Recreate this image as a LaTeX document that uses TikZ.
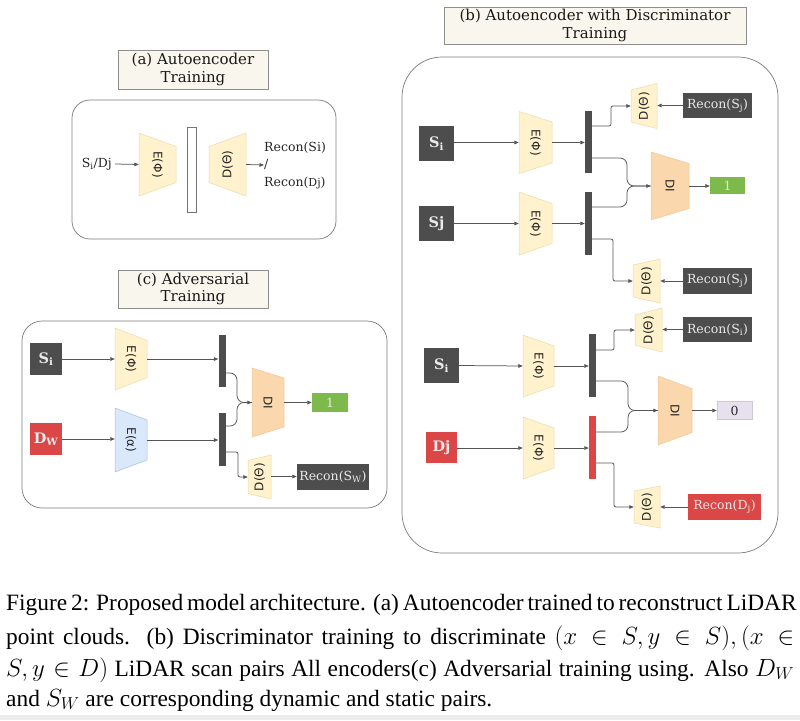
\documentclass[tikz,border=0pt]{standalone}
\usepackage{fontspec}
\setmainfont{DejaVu Serif}
\newfontfamily\capfont{Liberation Serif}
\newfontfamily\sansf{DejaVu Sans}
\usetikzlibrary{arrows.meta}
\definecolor{darkc}{HTML}{4D4D4D}
\definecolor{redc}{HTML}{DB4646}
\definecolor{boxtext}{HTML}{EAEAEA}
\definecolor{encfill}{HTML}{FFF2CC}
\definecolor{encdraw}{HTML}{EADBA8}
\definecolor{difill}{HTML}{FAD7AC}
\definecolor{didraw}{HTML}{EEC89A}
\definecolor{bluefill}{HTML}{DAE8FC}
\definecolor{bluedraw}{HTML}{A9BCDD}
\definecolor{greenc}{HTML}{7DBA4B}
\definecolor{lavfill}{HTML}{E7E1EF}
\definecolor{lavdraw}{HTML}{CFC6D9}
\definecolor{titlefill}{HTML}{F9F7ED}
\definecolor{titledraw}{HTML}{8E8E8A}
\definecolor{linec}{HTML}{555555}
\definecolor{panelc}{HTML}{7A7A7A}
\newcommand\trap[9]{%
  \path[#7] (#2,#4-#5) -- (#3,#4-#6) -- (#3,#4+#6) -- (#2,#4+#5) -- cycle;
  \node[inner sep=0pt, minimum width={(#3-#2)*1pt}, minimum height={2*max(#5,#6)*1pt}] (#1) at ({(#2+#3)/2},#4) {};
  \node[rotate=#8, inner sep=0pt, font=\sansf\fontsize{12}{13}\selectfont, text=black!85] at (#1) {#9};
}
\tikzset{
  ln/.style={draw=linec, line width=0.75pt},
  arr/.style={ln, -{Triangle[length=4.5pt,width=3.6pt]}},
  enc/.style={fill=encfill, draw=encdraw, line width=0.5pt},
  disc/.style={fill=difill, draw=didraw, line width=0.5pt},
  encb/.style={fill=bluefill, draw=bluedraw, line width=0.5pt},
  darkbox/.style={fill=darkc, text=boxtext, inner sep=0pt, font=\fontsize{14.5}{16}\bfseries\selectfont},
  redbox/.style={fill=redc, text=boxtext, inner sep=0pt, font=\fontsize{14.5}{16}\bfseries\selectfont},
  reconbox/.style={fill=darkc, text=boxtext, inner sep=0pt, minimum width=69, minimum height=25.5, font=\fontsize{12.5}{14}\selectfont},
  bar/.style={fill=darkc, draw=none, inner sep=0pt, minimum width=7},
  redbar/.style={fill=redc, draw=none, inner sep=0pt, minimum width=7},
  titlebox/.style={fill=titlefill, draw=titledraw, line width=0.6pt, inner sep=0pt, align=center, font=\fontsize{15}{17.5}\selectfont, text=black!90},
  panel/.style={draw=panelc, line width=0.7pt},
  lbl/.style={inner sep=0pt, font=\fontsize{12.5}{17.5}\selectfont, text=black!85},
  capline/.style={inner sep=0pt, anchor=base west, font=\capfont\fontsize{23.4}{26}\selectfont},
  merge/.style={rounded corners=7pt},
  elbow/.style={rounded corners=2pt}
}
\begin{document}
\begin{tikzpicture}[x=1pt,y=-1pt]
\useasboundingbox (0,0) rectangle (800,720);
\fill[white] (0,0) rectangle (800,720);
\fill[black!7] (0,715) rectangle (800,720);

% ---------------- panel (a)
\draw[panel, rounded corners=18pt] (72,100) rectangle (336,239);
\node[titlebox, minimum width=150, minimum height=39] (ta) at (193,69.5) {(a) Autoencoder\\Training};
\node[lbl, anchor=east] (ina) at (112,164) {S\textsubscript{i}/Dj};
\trap{ea}{139}{176}{164.5}{31.5}{18}{enc}{-90}{E(Φ)}
\node[fill=white, draw=black!55, line width=0.6pt, inner sep=0pt, minimum width=9, minimum height=85] (ba) at (191.5,169.5) {};
\trap{da}{209}{246}{164.5}{18}{31.5}{enc}{90}{D(Θ)}
\node[lbl, anchor=west, align=left] (outa) at (264,165) {Recon(Si)\\/\\Recon({\fontsize{11}{12}\selectfont Dj})};
\draw[arr] (ina.east) ++(3,0) -- (ea.west);
\draw[arr] (da.east) -- (outa.west);

% ---------------- panel (c)
\draw[panel, rounded corners=20pt] (22,321) rectangle (387,508);
\node[titlebox, minimum width=150, minimum height=38] (tc) at (193,289) {(c) Adversarial\\Training};
\node[darkbox, minimum width=32, minimum height=32] (sc) at (46,359) {S\textsubscript{i}};
\node[redbox, minimum width=32, minimum height=32] (dw) at (46,439) {D\textsubscript{W}};
\trap{ec1}{115}{147}{359}{31}{18.5}{enc}{-90}{E(Φ)}
\trap{ec2}{115}{147}{440}{32}{20}{encb}{-90}{E(α)}
\node[bar, minimum height=52] (bc1) at (222,361) {};
\node[bar, minimum height=53] (bc2) at (222,439.5) {};
\trap{dic}{252}{284}{402.5}{34.5}{24.5}{disc}{-90}{DI}
\node[fill=greenc, text=boxtext, inner sep=0pt, minimum width=36, minimum height=19, font=\fontsize{12.5}{14}\selectfont] (gc) at (330,402.5) {1};
\trap{dc}{248}{271}{477}{16.5}{22}{enc}{90}{D(Θ)}
\node[reconbox, minimum width=72, minimum height=26] (rc) at (333,476.5) {Recon(S\textsubscript{W})};
\draw[arr] (sc.east) -- (ec1.west);
\draw[arr] (ec1.east) -- (bc1.west |- ec1.east);
\draw[arr] (dw.east) -- (ec2.west |- dw.east);
\draw[arr] (ec2.east) -- (bc2.west |- ec2.east);
\draw[arr, merge] (bc1.east |- 0,373) -- (237,373) |- (dic.west);
\draw[ln, merge] (bc2.east |- 0,426) -- (237,426) |- (dic.west);
\draw[arr, elbow] (bc2.east |- 0,452) -- (238,452) |- (dc.west);
\draw[arr] (dc.east |- rc.west) -- (rc.west);
\draw[arr] (dic.east) -- (gc.west);

% ---------------- panel (b)
\draw[panel, rounded corners=40pt] (402,57) rectangle (778,553);
\node[titlebox, minimum width=302, minimum height=37] (tb) at (595,25.5) {(b) Autoencoder with Discriminator\\Training};
% upper half
\node[darkbox, minimum width=35, minimum height=35] (si1) at (436.5,143.5) {S\textsubscript{i}};
\node[darkbox, minimum width=35, minimum height=35] (sj1) at (436.5,223.5) {Sj};
\trap{e1}{519}{552}{142.5}{31}{20.5}{enc}{-90}{E(Φ)}
\trap{e2}{519}{552}{223.5}{31.5}{20}{enc}{-90}{E(Φ)}
\node[bar, minimum height=62] (b1) at (588.5,142) {};
\node[bar, minimum height=63] (b2) at (588.5,223.5) {};
\trap{dt}{631}{657}{106}{16}{22.5}{enc}{90}{D(Θ)}
\node[reconbox] (rt) at (717.5,105.5) {Recon(S\textsubscript{j})};
\trap{di1}{651}{689}{186}{34}{22.5}{disc}{-90}{DI}
\node[fill=greenc, text=boxtext, inner sep=0pt, minimum width=35, minimum height=17.5, font=\fontsize{12.5}{14}\selectfont] (g1) at (727.5,185.5) {1};
\trap{dm}{633}{660}{281}{16}{22}{enc}{90}{D(Θ)}
\node[reconbox] (rm) at (717.5,281) {Recon(S\textsubscript{j})};
\draw[arr] (si1.east |- e1.west) -- (e1.west);
\draw[arr] (e1.east) -- (b1.west |- e1.east);
\draw[arr] (sj1.east) -- (e2.west);
\draw[arr] (e2.east) -- (b2.west |- e2.east);
\draw[arr, elbow] (b1.east |- 0,126) -- (611,126) |- (dt.west);
\draw[arr, merge] (b1.east |- 0,158) -- (627,158) |- (di1.west);
\draw[ln, merge] (b2.east |- 0,207) -- (627,207) |- (di1.west);
\draw[arr, elbow] (b2.east |- 0,239) -- (613,239) |- (dm.west);
\draw[arr] (rt.west) -- (dt.east |- rt.west);
\draw[arr] (rm.west) -- (dm.east);
\draw[arr] (di1.east) -- (g1.west |- di1.east);
% lower half
\node[darkbox, minimum width=35, minimum height=35] (si2) at (441.5,365.5) {S\textsubscript{i}};
\node[redbox, minimum width=31, minimum height=31] (dj) at (441.5,447.5) {Dj};
\trap{e3}{523}{554}{366}{31}{20}{enc}{-90}{E(Φ)}
\trap{e4}{523}{554}{448}{31}{20}{enc}{-90}{E(Φ)}
\node[bar, minimum height=63] (b3) at (592.5,365.5) {};
\node[redbar, minimum height=63] (b4) at (592.5,447.5) {};
\trap{d3}{635}{662}{330}{15}{22}{enc}{90}{D(Θ)}
\node[reconbox] (r3) at (717.5,329.5) {Recon(S\textsubscript{i})};
\trap{di2}{658}{692}{410.5}{34.5}{22}{disc}{-90}{DI}
\node[fill=lavfill, draw=lavdraw, line width=0.5pt, text=black!85, inner sep=0pt, minimum width=35, minimum height=18, font=\fontsize{12.5}{14}\selectfont] (z0) at (734.5,410.5) {0};
\trap{d4}{634}{660}{507}{16}{21}{enc}{90}{D(Θ)}
\node[fill=redc, text=boxtext, inner sep=0pt, minimum width=73, minimum height=26, font=\fontsize{12.5}{14}\selectfont] (r4) at (724.5,507) {Recon(D\textsubscript{j})};
\draw[arr] (si2.east) -- (e3.west);
\draw[arr] (e3.east) -- (b3.west |- e3.east);
\draw[arr] (dj.east |- e4.west) -- (e4.west);
\draw[arr] (e4.east) -- (b4.west |- e4.east);
\draw[arr, elbow] (b3.east |- 0,350) -- (614,350) |- (d3.west);
\draw[arr, merge] (b3.east |- 0,381) -- (628,381) |- (di2.west);
\draw[ln, merge] (b4.east |- 0,432) -- (628,432) |- (di2.west);
\draw[arr, elbow] (b4.east |- 0,463) -- (614,463) |- (d4.west);
\draw[arr] (r3.west) -- (d3.east |- r3.west);
\draw[arr] (r4.west) -- (d4.east);
\draw[arr] (di2.east) -- (z0.west);

% ---------------- caption
\node[capline] (c1) at (6,610) {\makebox[788pt][s]{Figure 2: Proposed model architecture. (a) Autoencoder trained to reconstruct LiDAR}};
\node[capline] (c2) at (6,644) {\makebox[788pt][s]{point clouds. (b) Discriminator training to discriminate $(x \in S, y \in S), (x \in$}};
\node[capline] (c3) at (6,676) {\makebox[788pt][s]{$S, y \in D)$ LiDAR scan pairs All encoders(c) Adversarial training using. Also $D_W$}};
\node[capline] (c4) at (6,706) {and $S_W$ are corresponding dynamic and static pairs.};
\end{tikzpicture}
\end{document}
